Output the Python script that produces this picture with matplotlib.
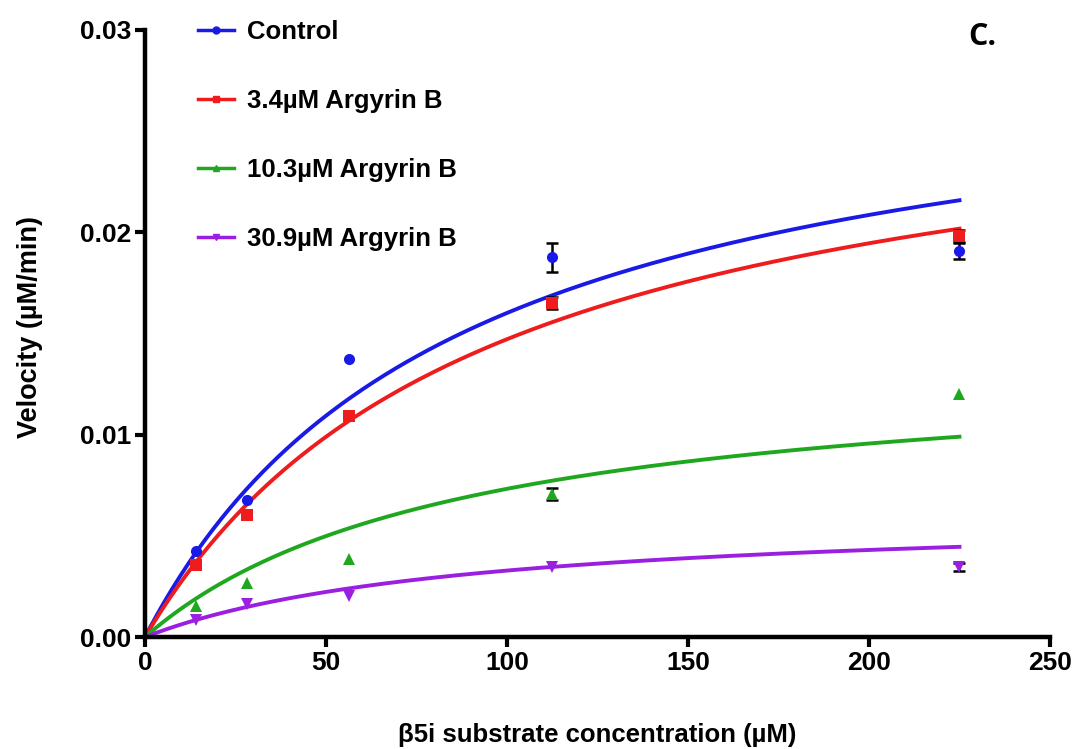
import numpy as np
import matplotlib
matplotlib.use("Agg")
import matplotlib.pyplot as plt

plt.rcParams['font.family'] = ['Liberation Sans', 'DejaVu Sans']
plt.rcParams['font.weight'] = 'bold'

# substrate concentrations (uM)
conc = [14.06, 28.1, 56.25, 112.5, 225.0]

labels = ["Control", "3.4\u00b5M Argyrin B", "10.3\u00b5M Argyrin B", "30.9\u00b5M Argyrin B"]
colors = ["#1a1ae6", "#ee1c1c", "#1fa81f", "#9b1fe0"]
markers = ["o", "s", "^", "v"]

# measured velocities (uM/min)
v_control = [0.00426, 0.00678, 0.01376, 0.01876, 0.01906]
v_34 = [0.00356, 0.00604, 0.01094, 0.01649, 0.01980]
v_103 = [0.00153, 0.00267, 0.00386, 0.00708, 0.01200]
v_309 = [0.00084, 0.00163, 0.00203, 0.00347, 0.00347]

# standard errors (0 = smaller than the symbol)
e_control = [0.0, 0.0, 0.0, 0.0007, 0.0004]
e_34 = [0.0, 0.0, 0.0, 0.0003, 0.0003]
e_103 = [0.0, 0.0, 0.0, 0.0003, 0.0]
e_309 = [0.0, 0.0, 0.0, 0.0, 0.0002]

# Michaelis-Menten fit parameters
vmax = [0.0299, 0.0287, 0.01377, 0.00624]
km = [86.7, 95.0, 88.0, 90.0]

velocities = [v_control, v_34, v_103, v_309]
errors = [e_control, e_34, e_103, e_309]

fig = plt.figure(figsize=(10.83, 7.49), dpi=100)
ax = fig.add_axes([0.1339, 0.1495, 0.8356, 0.8105])

s_fit = np.linspace(0, 225, 300)
for lab, col, mk, v, e, vm, k in zip(labels, colors, markers, velocities, errors, vmax, km):
    xs = [c for c, err in zip(conc, e) if err > 0]
    ys = [y for y, err in zip(v, e) if err > 0]
    es = [err for err in e if err > 0]
    if xs:
        ax.errorbar(xs, ys, yerr=es, fmt='none', ecolor='black', elinewidth=1.8,
                    capsize=4, capthick=1.8, zorder=3)
    ax.plot(conc, v, linestyle='none', marker=mk, color=col, markersize=8,
            markeredgewidth=0, zorder=4)
    ax.plot(s_fit, vm * s_fit / (k + s_fit), color=col, linewidth=2.8, zorder=2)
    ax.plot([], [], color=col, linewidth=2.5, marker=mk, markersize=5, label=lab)

ax.set_xlim(0, 250)
ax.set_ylim(0, 0.03)
ax.set_xticks([0, 50, 100, 150, 200, 250])
ax.set_yticks([0.00, 0.01, 0.02, 0.03])
ax.set_yticklabels(["0.00", "0.01", "0.02", "0.03"])

for side in ['top', 'right']:
    ax.spines[side].set_visible(False)
for side in ['left', 'bottom']:
    ax.spines[side].set_linewidth(3.2)
ax.tick_params(axis='both', which='major', direction='out', length=7, width=3,
               labelsize=19, pad=3)
for t in ax.get_xticklabels() + ax.get_yticklabels():
    t.set_fontweight('bold')

ax.set_xlabel("\u03b25i substrate concentration (\u00b5M)", fontsize=18.5,
              fontweight='bold')
ax.xaxis.set_label_coords(0.5, -0.142)
ax.set_ylabel("Velocity (\u00b5M/min)", fontsize=19.5, fontweight='bold')
ax.yaxis.set_label_coords(-0.113, 0.51)

leg = ax.legend(loc='upper left', bbox_to_anchor=(0.033, 1.055), frameon=False,
                prop={'size': 18.5, 'weight': 'bold'}, labelspacing=1.75,
                handlelength=1.4, handletextpad=0.5)

fig.text(0.907, 0.950, "C.", fontsize=22, fontweight='bold', ha='center', va='center',
         family=['Open Sans', 'DejaVu Sans'])

fig.savefig("out.png", dpi=100)
